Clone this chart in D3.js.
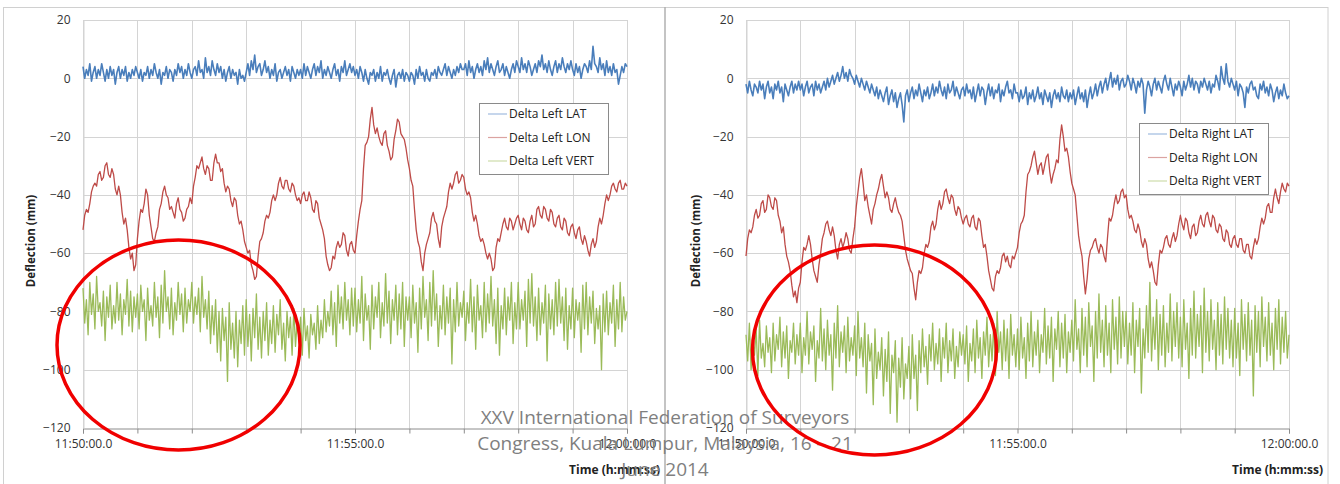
<!DOCTYPE html>
<html><head><meta charset="utf-8">
<script src="https://cdn.jsdelivr.net/npm/d3@7"></script>
<style>body{margin:0;background:#fff}svg{display:block}text{font-family:"Open Sans",sans-serif}</style>
</head><body><svg id="c" width="1340" height="484"></svg>
<script>
// ---------- data ----------
const sampleStepSec = 1.875;          // one sample every 1.875 s over 10 minutes
const timeTickMinutes = [0,1,2,3,4,5,6,7,8,9,10];
const timeTickLabels = ["11:50:00.0","","","","","11:55:00.0","","","","","12:00:00.0"];
const yTicks = [20,0,-20,-40,-60,-80,-100,-120];
const leftNames = ["Delta Left LAT","Delta Left LON","Delta Left VERT"];
const rightNames = ["Delta Right LAT","Delta Right LON","Delta Right VERT"];
const seriesColors = ["#4a7ebb","#be4b48","#9bbb59"];
const legendColors = ["#9fbbe0","#dba3a1","#cddcaa"];
const watermarkLines = ["XXV International Federation of Surveyors","Congress, Kuala Lumpur, Malaysia, 16 \u2013 21","June 2014"];

const leftLat = [
4,0,3,1,5,-1,2,4,0,3,1,5,2,-1,3,0,4,1,3,-2,2,4,0,3,1,4,-1,2,0,3,1,4,
2,0,3,-1,2,1,4,0,3,1,5,2,0,3,-2,2,1,4,0,3,2,-1,3,1,5,2,4,0,3,1,5,2,
0,3,4,1,6,2,3,0,7,2,4,1,6,3,1,5,2,4,0,3,-1,2,4,0,3,1,2,-2,3,0,1,-1,
2,5,1,6,3,8,2,4,5,1,3,6,2,4,0,3,1,5,-1,2,3,0,2,4,1,3,-1,4,2,0,3,1,
3,0,5,1,4,2,0,3,5,1,4,2,6,0,3,1,4,2,0,3,5,1,3,-1,4,2,6,1,3,5,2,4,
1,3,0,4,2,-1,3,0,-2,2,1,3,-1,2,0,4,-1,2,1,3,0,-2,1,3,-3,1,2,0,3,-1,2,1,
-1,2,1,-2,3,0,4,1,2,-1,3,0,-1,2,1,3,0,4,2,1,3,5,1,4,2,0,3,1,4,2,5,3,
3,5,1,6,2,4,0,3,5,2,4,1,6,3,7,2,5,3,1,4,6,2,3,5,1,4,2,0,3,5,2,6,
4,2,7,3,5,2,6,4,1,3,5,2,6,4,8,3,5,2,6,3,1,4,6,2,5,3,7,4,2,5,3,6,
3,1,5,2,4,0,3,5,4,2,6,3,11,5,4,2,7,3,5,1,6,2,4,1,5,2,3,-2,1,4,2,5,
4];
const leftLon = [
-52,-47,-45,-46,-43,-39,-37,-36,-37,-33,-32,-35,-34,-30,-29,-33,-34,-31,-33,-38,-40,-37,-40,-46,-50,-48,-52,-58,-62,-60,-66,-64,
-55,-49,-45,-46,-43,-38,-40,-47,-51,-55,-56,-53,-51,-45,-43,-39,-37,-40,-41,-45,-44,-46,-48,-43,-41,-45,-46,-49,-48,-45,-44,-41,
-43,-37,-34,-30,-31,-29,-27,-31,-33,-30,-31,-35,-35,-29,-26,-29,-29,-32,-31,-36,-39,-37,-38,-42,-44,-41,-42,-47,-50,-49,-52,-56,
-58,-60,-59,-64,-66,-69,-68,-61,-56,-55,-53,-49,-47,-48,-46,-42,-40,-42,-40,-36,-34,-37,-38,-35,-35,-38,-39,-36,-37,-40,-42,-41,
-43,-40,-39,-42,-42,-39,-41,-45,-46,-42,-43,-48,-50,-52,-55,-61,-64,-66,-65,-61,-62,-58,-56,-58,-57,-53,-54,-59,-61,-57,-56,-59,
-60,-54,-49,-45,-42,-31,-23,-22,-20,-14,-10,-16,-19,-17,-20,-22,-23,-19,-18,-23,-25,-28,-27,-21,-18,-14,-15,-19,-20,-21,-24,-28,
-31,-35,-37,-45,-52,-56,-58,-63,-66,-60,-57,-55,-53,-48,-46,-49,-50,-55,-58,-51,-48,-46,-44,-39,-36,-38,-36,-33,-32,-36,-35,-33,
-34,-38,-40,-39,-41,-46,-49,-47,-50,-54,-56,-55,-57,-60,-62,-60,-62,-66,-65,-58,-55,-56,-53,-50,-48,-51,-52,-48,-49,-52,-50,-48,
-47,-50,-52,-48,-49,-52,-53,-49,-47,-51,-50,-45,-44,-47,-48,-44,-45,-48,-49,-45,-46,-50,-51,-48,-47,-51,-52,-48,-49,-53,-54,-51,
-50,-53,-55,-52,-51,-55,-57,-54,-56,-59,-61,-57,-55,-58,-56,-51,-48,-50,-47,-43,-40,-42,-40,-37,-36,-38,-39,-36,-35,-38,-38,-36,
-37];
const leftVert = [
-72,-84,-76,-88,-70,-81,-74,-86,-68,-80,-77,-85,-73,-90,-75,-82,-71,-86,-78,-84,-70,-83,-74,-88,-76,-81,-69,-85,-73,-87,-75,-82,
-74,-86,-71,-80,-76,-90,-72,-83,-78,-85,-70,-82,-75,-89,-71,-84,-66,-80,-75,-86,-72,-88,-77,-83,-70,-81,-74,-87,-72,-84,-76,-80,
-70,-84,-75,-81,-72,-87,-68,-82,-76,-86,-73,-91,-78,-88,-76,-94,-80,-97,-79,-90,-82,-104,-77,-93,-84,-96,-80,-99,-83,-91,-78,-95,
-76,-92,-81,-97,-79,-89,-74,-93,-82,-96,-80,-90,-77,-95,-83,-91,-78,-94,-81,-88,-76,-93,-84,-97,-80,-89,-82,-95,-79,-92,-83,-90,
-82,-95,-79,-90,-85,-96,-81,-88,-84,-93,-78,-91,-83,-89,-76,-87,-80,-85,-73,-88,-77,-92,-71,-84,-75,-86,-70,-83,-76,-88,-72,-85,
-72,-87,-76,-84,-68,-90,-74,-83,-78,-93,-71,-86,-75,-82,-70,-89,-77,-85,-67,-84,-73,-91,-76,-83,-71,-88,-74,-86,-70,-92,-75,-83,
-75,-89,-71,-84,-77,-94,-72,-86,-68,-82,-76,-90,-70,-85,-66,-83,-74,-92,-78,-86,-71,-88,-75,-84,-72,-98,-76,-87,-70,-85,-77,-82,
-73,-90,-77,-84,-69,-87,-75,-93,-71,-83,-78,-89,-70,-87,-74,-84,-68,-85,-76,-91,-72,-95,-78,-86,-72,-88,-75,-83,-70,-91,-77,-86,
-70,-86,-76,-83,-73,-92,-69,-84,-67,-85,-75,-90,-72,-88,-77,-84,-71,-97,-74,-86,-76,-88,-70,-85,-69,-84,-75,-90,-72,-93,-78,-86,
-72,-89,-76,-83,-77,-94,-71,-86,-70,-88,-75,-84,-73,-91,-79,-86,-78,-100,-74,-87,-73,-88,-77,-84,-71,-92,-76,-86,-70,-87,-75,-83,
-80];
const rightLat = [
-2,-5,-1,-4,-6,-2,-3,-5,-1,-4,-2,-7,-3,-1,-5,-3,-7,-2,-4,-1,-5,-3,-8,-2,-4,-6,-3,-1,-5,-2,-4,-1,
-4,-2,-6,-3,-1,-5,-3,-2,-6,-1,-4,-2,-5,-3,-1,-4,0,-3,-1,1,-2,0,2,-1,1,4,0,2,-1,3,1,0,
-2,1,-1,-3,0,-2,-4,-1,-3,-5,-2,-4,-6,-3,-7,-4,-6,-8,-5,-3,-9,-6,-4,-8,-5,-10,-7,-5,-9,-15,-6,-4,
-8,-5,-3,-7,-4,-6,-2,-5,-8,-4,-6,-3,-7,-5,-2,-6,-3,-5,-1,-4,-6,-3,-7,-2,-5,-4,-1,-6,-3,-5,-7,-4,
-3,-6,-2,-5,-4,-7,-3,-8,-5,-2,-6,-3,-4,-9,-5,-2,-6,-3,-7,-4,-5,-2,-8,-4,-6,-3,-1,-5,-4,-7,-2,-5,
-5,-8,-4,-7,-6,-3,-9,-5,-7,-4,-8,-6,-3,-7,-5,-9,-4,-6,-8,-5,-10,-6,-4,-7,-5,-8,-3,-6,-7,-4,-8,-5,
-7,-4,-9,-6,-3,-7,-5,-8,-4,-10,-6,-3,-7,-5,-2,-6,-3,-1,-5,-2,0,-4,-1,2,-3,0,-2,1,-4,-1,0,-3,
-2,1,-1,-4,0,-2,-5,-1,-3,0,-2,-12,-4,-1,-3,-6,-2,0,-4,-1,-3,-5,-1,1,-2,-4,0,-3,-6,-2,-4,-1,
-3,-6,-1,-4,-2,1,-3,0,-4,-1,-2,-5,-1,-3,0,-2,-4,-1,-5,-2,-3,1,-1,-4,4,0,-2,5,-1,-3,0,-2,
-4,-1,-6,-2,-3,-5,-10,-3,-5,-2,-1,-4,-3,-6,-7,-2,-4,-1,-5,-3,-6,-2,-4,-8,-5,-3,-7,-4,-6,-2,-5,-7,
-6];
const rightLon = [
-61,-55,-52,-53,-51,-47,-45,-48,-47,-43,-42,-46,-45,-40,-41,-44,-45,-41,-42,-47,-49,-53,-51,-57,-61,-63,-66,-71,-75,-73,-77,-72,
-70,-63,-58,-59,-57,-54,-57,-62,-66,-68,-70,-64,-60,-55,-53,-50,-49,-52,-54,-51,-54,-59,-62,-57,-55,-58,-56,-53,-55,-59,-60,-55,
-51,-44,-39,-34,-31,-36,-42,-40,-44,-47,-50,-45,-43,-40,-38,-35,-33,-37,-41,-39,-41,-45,-46,-43,-41,-44,-46,-47,-49,-54,-59,-62,
-64,-66,-67,-72,-76,-70,-66,-67,-65,-60,-57,-58,-56,-51,-49,-52,-50,-45,-42,-45,-43,-39,-38,-41,-43,-40,-41,-45,-47,-44,-45,-48,
-50,-48,-47,-50,-51,-48,-47,-51,-52,-48,-49,-54,-58,-57,-61,-66,-69,-72,-73,-68,-66,-67,-65,-61,-60,-63,-61,-64,-65,-61,-62,-60,
-58,-53,-50,-49,-47,-39,-33,-32,-30,-27,-25,-29,-33,-30,-29,-33,-30,-27,-26,-32,-36,-33,-31,-28,-29,-21,-16,-20,-25,-24,-27,-32,
-36,-38,-40,-47,-54,-58,-61,-68,-74,-69,-62,-59,-58,-56,-55,-58,-60,-57,-58,-61,-63,-55,-48,-49,-47,-43,-40,-43,-42,-39,-38,-41,
-40,-45,-48,-47,-49,-52,-53,-50,-52,-56,-58,-55,-57,-62,-65,-63,-66,-70,-71,-64,-59,-60,-58,-55,-54,-57,-58,-55,-53,-56,-54,-50,
-47,-50,-52,-48,-49,-53,-55,-51,-50,-54,-53,-49,-47,-50,-51,-47,-46,-49,-51,-47,-48,-52,-53,-50,-51,-55,-56,-52,-53,-57,-58,-55,
-54,-57,-58,-55,-55,-59,-60,-57,-57,-61,-62,-58,-55,-57,-55,-51,-48,-50,-48,-44,-43,-46,-46,-41,-38,-41,-43,-39,-36,-38,-39,-36,
-37];
const rightVert = [
-88,-97,-84,-100,-90,-95,-86,-102,-83,-96,-91,-99,-85,-94,-89,-101,-84,-97,-88,-93,-82,-99,-87,-96,-85,-103,-90,-94,-84,-98,-88,-95,
-84,-101,-89,-95,-80,-98,-87,-93,-85,-104,-90,-96,-79,-97,-86,-100,-83,-95,-88,-107,-84,-96,-78,-99,-87,-94,-85,-101,-82,-97,-89,-95,
-85,-102,-80,-96,-89,-99,-84,-108,-88,-97,-91,-112,-86,-103,-94,-100,-89,-109,-93,-104,-87,-115,-95,-101,-90,-118,-96,-106,-89,-110,-98,-103,
-92,-110,-88,-103,-95,-114,-90,-101,-86,-99,-92,-105,-88,-97,-84,-100,-91,-98,-86,-104,-89,-96,-84,-101,-90,-97,-86,-103,-92,-99,-87,-95,
-88,-98,-85,-104,-91,-97,-86,-101,-83,-96,-89,-103,-87,-95,-82,-99,-88,-97,-84,-102,-80,-94,-87,-100,-83,-97,-86,-103,-81,-95,-88,-99,
-86,-100,-82,-96,-89,-103,-84,-97,-80,-99,-87,-95,-83,-101,-88,-94,-79,-98,-85,-96,-82,-104,-86,-93,-80,-99,-84,-96,-81,-101,-87,-94,
-83,-97,-76,-93,-86,-101,-79,-95,-82,-99,-77,-92,-85,-104,-80,-96,-74,-94,-83,-99,-78,-95,-84,-101,-76,-93,-82,-98,-75,-96,-80,-92,
-80,-98,-84,-95,-77,-101,-83,-92,-79,-108,-86,-96,-78,-94,-70,-97,-82,-93,-76,-100,-81,-95,-78,-99,-84,-94,-74,-97,-80,-92,-77,-96,
-82,-99,-76,-93,-84,-103,-79,-95,-73,-96,-81,-92,-78,-101,-72,-94,-80,-97,-76,-93,-83,-100,-77,-95,-81,-98,-75,-93,-79,-96,-83,-99,
-79,-96,-84,-102,-76,-93,-81,-97,-77,-95,-83,-109,-78,-94,-80,-99,-75,-92,-82,-97,-77,-95,-84,-100,-79,-93,-76,-98,-82,-94,-80,-96,
-88];

// ---------- layout ----------
const panels = [
  {names:leftNames, series:[leftLat,leftLon,leftVert], plotX0:83, plotX1:627, tickLabelX:70,
   yTitleX:31, xTitleRight:660, legendX:479, legendY:103},
  {names:rightNames, series:[rightLat,rightLon,rightVert], plotX0:746, plotX1:1289, tickLabelX:733,
   yTitleX:696, xTitleRight:1323, legendX:1139, legendY:123}
];
const plotTop = 20, plotBottom = 428;
const strokeWidths = [1.6,1.3,1.3];

const svg = d3.select("#c");
const y = d3.scaleLinear().domain([-120,20]).range([plotBottom, plotTop]);

svg.append("line").attr("x1",3).attr("x2",1328).attr("y1",7.5).attr("y2",7.5).attr("stroke","#d0d0d0");
[3.5,665,1328].forEach(xv=>svg.append("line").attr("x1",xv).attr("x2",xv).attr("y1",7).attr("y2",484)
  .attr("stroke",xv===665?"#b0b0b0":"#d0d0d0").attr("stroke-width",xv===665?1.5:1));

panels.forEach(p=>{
  const g = svg.append("g");
  const xMin = d3.scaleLinear().domain([0,10]).range([p.plotX0,p.plotX1]);
  g.selectAll(".hg").data(yTicks.filter(v=>v>-120)).join("line")
    .attr("x1",p.plotX0).attr("x2",p.plotX1)
    .attr("y1",d=>Math.round(y(d))+0.5).attr("y2",d=>Math.round(y(d))+0.5)
    .attr("stroke","#d4d4d4");
  g.selectAll(".vg").data(timeTickMinutes).join("line")
    .attr("x1",d=>Math.round(xMin(d))+0.5).attr("x2",d=>Math.round(xMin(d))+0.5)
    .attr("y1",plotTop).attr("y2",plotBottom).attr("stroke","#d4d4d4");
  const xAxis = d3.axisBottom(xMin).tickValues(timeTickMinutes)
    .tickFormat((d,i)=>timeTickLabels[i]).tickSize(5).tickPadding(6);
  const ax = g.append("g").attr("transform",`translate(0,${Math.round(y(-120))+0.5})`).call(xAxis);
  ax.select(".domain").attr("stroke","#8c8c8c");
  ax.selectAll(".tick line").attr("stroke","#8c8c8c");
  ax.selectAll(".tick text").attr("font-size",12).attr("fill","#333").attr("font-family","Open Sans");
  const yAxis = d3.axisLeft(y).tickValues(yTicks).tickSize(0).tickPadding(p.plotX0-p.tickLabelX);
  const ay = g.append("g").attr("transform",`translate(${p.plotX0+0.5},0)`).call(yAxis);
  ay.select(".domain").attr("stroke","#d4d4d4");
  ay.selectAll(".tick text").attr("font-size",12).attr("fill","#333").attr("font-family","Open Sans");
  g.append("text").attr("transform",`translate(${p.yTitleX},241) rotate(-90)`)
    .attr("text-anchor","middle").attr("dy","0.35em").attr("font-size",11.5).attr("font-weight","bold")
    .attr("fill","#222").text("Deflection (mm)");
  g.append("text").attr("x",p.xTitleRight).attr("y",474).attr("text-anchor","end")
    .attr("font-size",12).attr("font-weight","bold").attr("fill","#222").text("Time (h:mm:ss)");
  const line = d3.line().x((d,i)=>xMin(i*sampleStepSec/60)).y(d=>y(d));
  p.series.forEach((s,k)=>{
    g.append("path").datum(s).attr("d",line).attr("fill","none")
      .attr("stroke",seriesColors[k]).attr("stroke-width",strokeWidths[k]).attr("stroke-linejoin","round");
  });
  const lg = g.append("g").attr("transform",`translate(${p.legendX},${p.legendY})`);
  lg.append("rect").attr("x",0.5).attr("y",0.5).attr("width",129).attr("height",71)
    .attr("fill","#fff").attr("stroke","#8a8a8a");
  p.names.forEach((n,k)=>{
    const cy = 11 + k*23.5;
    lg.append("line").attr("x1",9).attr("x2",28).attr("y1",cy).attr("y2",cy)
      .attr("stroke",legendColors[k]).attr("stroke-width",1.2);
    lg.append("text").attr("x",30).attr("y",cy).attr("dy","0.35em").attr("font-size",12)
      .attr("fill","#222").text(n);
  });
});

svg.append("g").selectAll("text").data(watermarkLines).join("text")
  .attr("x",665).attr("y",(d,i)=>424+i*26).attr("text-anchor","middle")
  .attr("font-size",19).attr("fill","#7f7f7f").text(d=>d);

[{cx:178.5,cy:345,rx:121.5,ry:105},{cx:874.5,cy:350,rx:122,ry:105}].forEach(e=>{
  svg.append("ellipse").attr("cx",e.cx).attr("cy",e.cy).attr("rx",e.rx).attr("ry",e.ry)
    .attr("fill","none").attr("stroke","#f00000").attr("stroke-width",3.5);
});
</script></body></html>
